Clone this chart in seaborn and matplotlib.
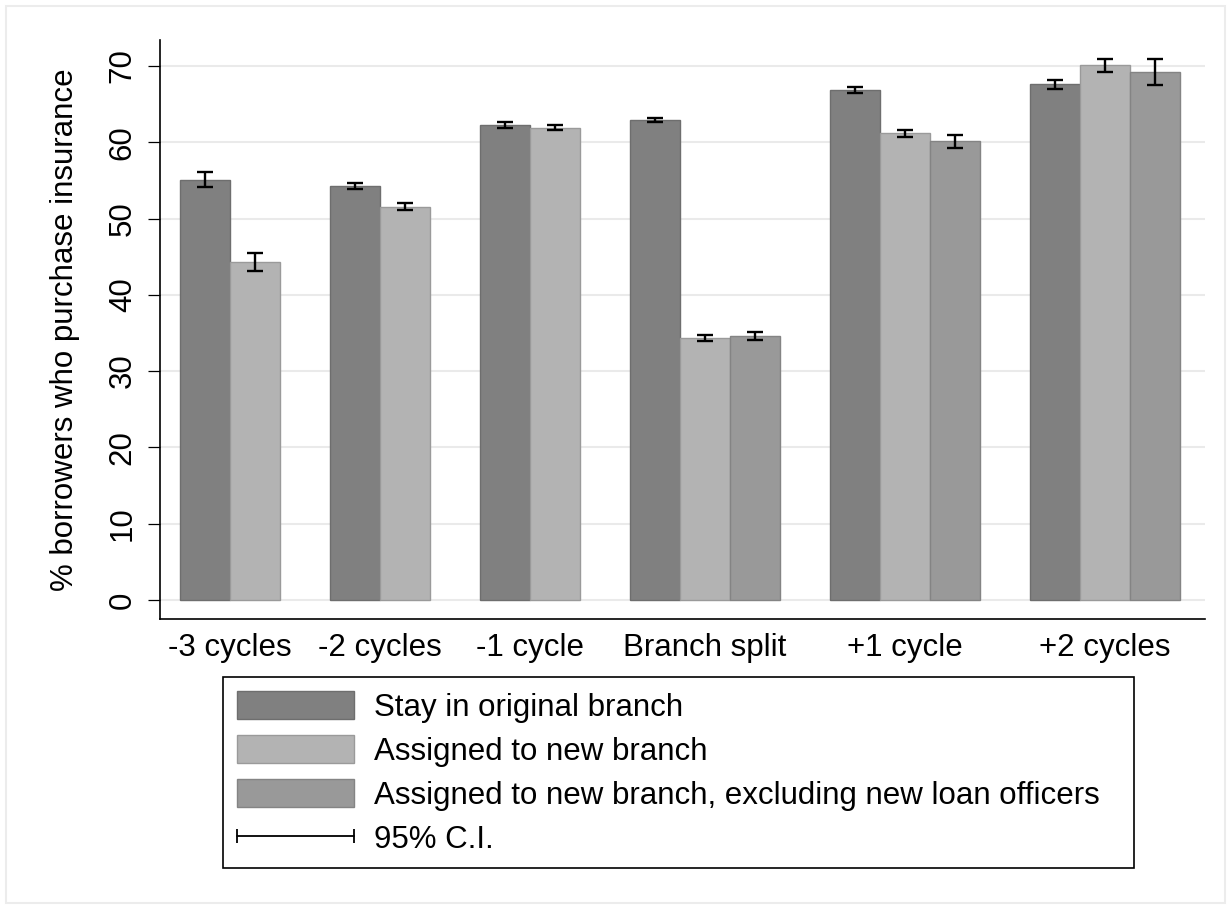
import matplotlib
matplotlib.use("Agg")
import matplotlib.pyplot as plt
import numpy as np
import pandas as pd
import seaborn as sns
from matplotlib.legend_handler import HandlerLine2D
from matplotlib.lines import Line2D
from matplotlib.patches import Patch, Rectangle

#Data
#---------------------------------
categories = ["-3 cycles", "-2 cycles", "-1 cycle", "Branch split", "+1 cycle", "+2 cycles"]
series = ["Stay in original branch",
          "Assigned to new branch",
          "Assigned to new branch, excluding new loan officers"]

stay = [55.1, 54.3, 62.25, 62.9, 66.85, 67.6]
stay_ci = [0.95, 0.4, 0.35, 0.3, 0.35, 0.57]
new_branch = [44.3, 51.55, 61.9, 34.35, 61.15, 70.1]
new_branch_ci = [1.15, 0.5, 0.3, 0.4, 0.5, 0.85]
new_excl = [None, None, None, 34.6, 60.1, 69.2]
new_excl_ci = [None, None, None, 0.5, 0.8, 1.7]

colors = ["#808080", "#b3b3b3", "#999999"]
y_ticks = [0, 10, 20, 30, 40, 50, 60, 70]

#Build long table, one slot per bar and one empty slot between groups
#--------------------------------------------------------------------
values = [stay, new_branch, new_excl]
cis = [stay_ci, new_branch_ci, new_excl_ci]
rows = []
centers = []
slot = 0
for i, cat in enumerate(categories):
    group_pos = []
    for s, name in enumerate(series):
        v = values[s][i]
        if v is None:
            continue
        rows.append({"period": cat, "series": name, "value": v,
                     "ci": cis[s][i], "pos": slot + 0.5})
        group_pos.append(slot + 0.5)
        slot += 1
    centers.append(np.mean(group_pos))
    slot += 1
df = pd.DataFrame(rows)

sns.set_theme(style="white")
plt.rcParams["font.family"] = ["Liberation Sans", "DejaVu Sans"]
plt.rcParams["text.color"] = "black"
plt.rcParams["axes.labelcolor"] = "black"
FS = 22.5

fig = plt.figure(figsize=(12.31, 9.09), dpi=100)
ax = fig.add_axes([160 / 1231, 1 - 619 / 909, 1045 / 1231, 579 / 909])

ax.yaxis.grid(True, color="#eaeaea", linewidth=1.5, zorder=0)
ax.set_axisbelow(True)

sns.barplot(data=df, x="pos", y="value", hue="series", hue_order=series,
            palette=colors, native_scale=True, width=1.0, dodge=False,
            errorbar=None, linewidth=1.0, legend=False, ax=ax)

# darker outline for each bar, like the original
for p in ax.patches:
    fc = np.array(p.get_facecolor()[:3])
    p.set_edgecolor(tuple(fc * 0.86))

ax.errorbar(df["pos"], df["value"], yerr=df["ci"], fmt="none",
            ecolor="black", elinewidth=1.7, capsize=6, capthick=1.7, zorder=5)

ax.set_xlim(-0.4, 20.5)
ax.set_ylim(-2.5, 73.4)
ax.set_yticks(y_ticks)
ax.set_yticklabels([str(t) for t in y_ticks], rotation=90, va="center")
ax.set_xticks(centers)
ax.set_xticklabels(categories)
ax.tick_params(axis="x", length=0, pad=10, labelsize=FS, colors="black")
ax.tick_params(axis="y", length=9, width=0.9, pad=7, labelsize=FS,
               colors="black", left=True)
ax.set_xlabel("")
ax.set_ylabel("% borrowers who purchase insurance", fontsize=FS, labelpad=20)

for side in ["top", "right"]:
    ax.spines[side].set_visible(False)
for side in ["left", "bottom"]:
    ax.spines[side].set_color("black")
    ax.spines[side].set_linewidth(1.2)

#Legend below the plot, frame drawn separately to match the wider box
#--------------------------------------------------------------------
handles = [Patch(facecolor=c, edgecolor=tuple(np.array(matplotlib.colors.to_rgb(c)) * 0.86))
           for c in colors]
ci_handle = Line2D([0], [0], color="black", linewidth=1.3, marker="|",
                   markersize=9.5, markeredgewidth=1.3)
handles.append(ci_handle)
labels = series + ["95% C.I."]
leg = fig.legend(handles, labels, loc="upper left",
                 bbox_to_anchor=(223 / 1231, 1 - 677 / 909),
                 fontsize=FS, frameon=False, numpoints=2,
                 handlelength=3.75, handleheight=1.0, handletextpad=0.62,
                 labelspacing=0.40, borderpad=0.45, borderaxespad=0,
                 handler_map={ci_handle: HandlerLine2D(marker_pad=0)})
for t in leg.get_texts():
    t.set_color("black")

fig.patches.append(Rectangle((223 / 1231, 1 - 868 / 909), 911 / 1231, 191 / 909,
                             transform=fig.transFigure, fill=False,
                             edgecolor="black", linewidth=1.2))

# light outer frame of the graph region
fig.patches.append(Rectangle((6 / 1231, 6 / 909), 1 - 12 / 1231, 1 - 12 / 909,
                             transform=fig.transFigure, fill=False,
                             edgecolor="#ececec", linewidth=1.5))

fig.savefig("out.png", dpi=100)
